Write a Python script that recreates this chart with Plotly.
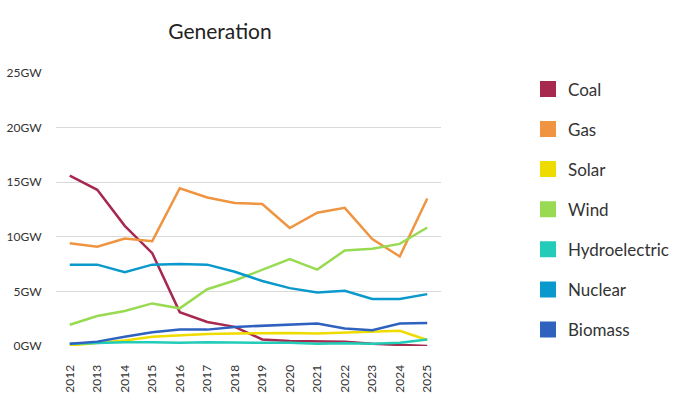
import plotly.graph_objects as go

years = [str(y) for y in range(2012, 2026)]

coal = [15.6, 14.3, 11.0, 8.5, 3.1, 2.2, 1.75, 0.6, 0.45, 0.45, 0.4, 0.2, 0.1, 0.0]
gas = [9.4, 9.1, 9.85, 9.6, 14.45, 13.6, 13.1, 13.0, 10.8, 12.2, 12.65, 9.8, 8.2, 13.5]
solar = [0.05, 0.3, 0.5, 0.85, 1.0, 1.1, 1.15, 1.2, 1.2, 1.15, 1.25, 1.3, 1.4, 0.55]
wind = [1.95, 2.75, 3.2, 3.9, 3.45, 5.2, 6.0, 6.95, 7.95, 7.0, 8.75, 8.9, 9.35, 10.85]
hydro = [0.2, 0.3, 0.35, 0.35, 0.3, 0.35, 0.3, 0.3, 0.3, 0.2, 0.25, 0.2, 0.3, 0.6]
nuclear = [7.45, 7.45, 6.75, 7.45, 7.5, 7.45, 6.8, 5.95, 5.3, 4.9, 5.05, 4.3, 4.3, 4.75]
biomass = [0.2, 0.4, 0.85, 1.25, 1.5, 1.5, 1.75, 1.85, 1.95, 2.05, 1.6, 1.45, 2.05, 2.1]

series_names = ["Coal", "Gas", "Solar", "Wind", "Hydroelectric", "Nuclear", "Biomass"]
series_values = [coal, gas, solar, wind, hydro, nuclear, biomass]
colors = ["#A6294F", "#EF9440", "#EEDC00", "#98DB52", "#22CCB8", "#0A99CC", "#2E62BE"]

y_tickvals = [0, 5, 10, 15, 20, 25]
y_ticktext = [f"{v}GW" for v in y_tickvals]

FONT = "Lato"

fig = go.Figure()
for name, vals, col in zip(series_names, series_values, colors):
    fig.add_trace(go.Scatter(
        x=years, y=vals, mode="lines", name=name,
        line=dict(color=col, width=2.5),
        showlegend=False, hoverinfo="skip",
    ))
for i, (name, col) in enumerate(zip(series_names, colors)):
    fig.add_trace(go.Scatter(
        x=[None], y=[None], mode="markers", name=name,
        marker=dict(symbol="square", size=16, color=col,
                    line=dict(width=0)),
        legendgroup=f"g{i}", showlegend=True,
    ))

fig.update_layout(
    width=675, height=416,
    margin=dict(l=56, r=234, t=73, b=70, autoexpand=False),
    paper_bgcolor="white", plot_bgcolor="white",
    font=dict(family=FONT, color="#333333"),
    title=dict(text="Generation", x=220/675, xanchor="center", xref="container",
               y=1 - 32/416, yanchor="middle", yref="container",
               font=dict(size=21, color="#222222", family=FONT)),
    showlegend=True,
    legend=dict(x=1.226, y=1.006, xanchor="left", yanchor="top",
                traceorder="grouped", tracegroupgap=15, maxheight=400,
                font=dict(size=17, color="#333333", family=FONT),
                itemsizing="trace", bgcolor="rgba(0,0,0,0)"),
    xaxis=dict(type="category", range=[-0.5, len(years) - 0.5],
               showgrid=False, showline=False, zeroline=False,
               tickangle=-90, tickfont=dict(size=12, color="#333333"),
               ticks="outside", ticklen=13, tickcolor="rgba(0,0,0,0)"),
    yaxis=dict(range=[0, 25], tickvals=y_tickvals, ticktext=y_ticktext,
               showgrid=True, gridcolor="#D9D9D9", gridwidth=1.2,
               zeroline=False, showline=False,
               tickfont=dict(size=12, color="#333333"),
               ticks="outside", ticklen=11, tickcolor="rgba(0,0,0,0)"),
)

fig.write_html("out.html", config={"displayModeBar": False},
               post_script="document.body.style.margin='0px';document.body.style.overflow='hidden';")
